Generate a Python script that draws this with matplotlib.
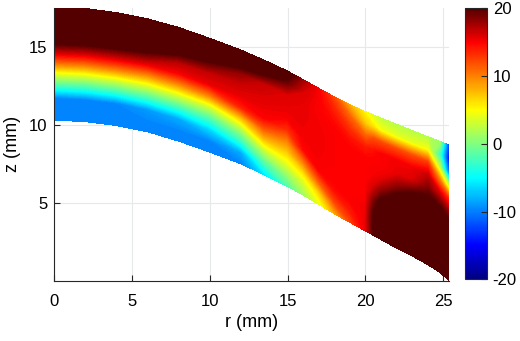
import numpy as np
import matplotlib.pyplot as plt
from matplotlib.colors import LinearSegmentedColormap, Normalize
from matplotlib.cm import ScalarMappable

plt.rcParams['font.family'] = ['Liberation Sans', 'DejaVu Sans']
plt.rcParams['axes.unicode_minus'] = False

# Geometry of the section: radial stations and the upper / lower surface heights (mm)
r_nodes = [0, 2, 4, 6, 8, 10, 12, 13.5, 15, 16, 17, 18, 19, 20, 20.5, 21, 22, 23, 24, 24.8, 25.4]
z_top = [17.5, 17.42, 17.15, 16.75, 16.2, 15.5, 14.75, 14.1, 13.4, 12.85, 12.3, 11.75, 11.25, 10.8,
         10.6, 10.4, 10.0, 9.6, 9.2, 8.9, 8.65]
z_bot = [10.3, 10.2, 9.95, 9.55, 8.95, 8.25, 7.5, 6.8, 6.05, 5.5, 4.9, 4.3, 3.75, 3.2,
         2.93, 2.65, 2.1, 1.6, 1.05, 0.55, 0.0]

# fraction of thickness, bottom surface (0) -> top surface (1)
s_levels = [0, 0.1, 0.2, 0.3, 0.4, 0.5, 0.6, 0.7, 0.8, 0.9, 1.0]

# field value at each station, listed bottom -> top
field_cols = [
    [-9.8, -9.7, -9.6, -2.8, 3.1, 10, 16.1, 20.9, 23.5, 24, 24],   # r=0
    [-9.8, -9.7, -9.6, -2.8, 3.1, 10, 16.1, 20.9, 23.5, 24, 24],   # r=2
    [-9.8, -9.7, -9.6, -2.8, 3.1, 10, 16, 20.6, 23.5, 24, 24],     # r=4
    [-9.8, -9.7, -8.9, -2.6, 2.9, 9.3, 15.4, 19.6, 22.7, 24, 24],  # r=6
    [-9.8, -9.7, -8.3, -2.5, 3.1, 9.4, 15, 17, 21.5, 23.5, 24],    # r=8
    [-9.8, -9.7, -6.5, -1.9, 3.1, 10, 15.5, 16.6, 20, 23, 24],     # r=10
    [-9.9, -8.3, -2.9, 1.5, 7.1, 13.7, 15.6, 16.4, 18, 21.8, 24],  # r=12
    [-6, -2.2, 2, 7, 11.4, 15, 15.5, 16, 16.5, 21, 23.5],          # r=13.5
    [-2, 0.9, 4.1, 7, 10, 13.3, 15.2, 15.6, 15.9, 19, 21.5],       # r=15
    [1, 3, 6.2, 10.4, 14.6, 15.2, 15.4, 15.5, 15.6, 16, 17.5],     # r=16
    [4, 6.5, 11.3, 15, 15.2, 15.3, 15.3, 15.2, 15, 15, 15],        # r=17
    [8, 12, 14.5, 15, 15, 15, 15, 15, 14.5, 13.5, 12],             # r=18
    [12, 14, 15, 15, 15, 15, 15, 14.5, 13, 11, 8],                 # r=19
    [15.5, 15.5, 15.3, 15, 15, 15, 15, 14, 11, 7, 5],              # r=20
    [19.5, 20, 19.5, 18, 16, 15.2, 15, 14.5, 12, 6, 3.5],          # r=20.5
    [23, 23, 22.5, 21, 18, 15.5, 15, 15, 12, 4.5, 2.5],            # r=21
    [24, 24, 24, 23, 21, 18, 15.5, 15.3, 12, 4, 2],                # r=22
    [24, 24, 24, 24, 22.5, 20, 16, 15.3, 12, 4, 2],                # r=23
    [24, 24, 24, 23.5, 22.5, 20.8, 18.5, 16.5, 12.5, 4.5, 2],      # r=24
    [24, 24, 24, 24, 23, 20, 16, 10, 2, -3, 1],                    # r=24.8
    [24, 24, 24, 23, 21, 18, 13, 2, -12, -16, -14],                # r=25.4
]

cbar_ticks = [-20, -10, 0, 10, 20]

# jet-like map with a darker red end
cmap = LinearSegmentedColormap.from_list('jet_dark', [
    (0.0, (0.0, 0.0, 0.5)), (0.125, (0.0, 0.0, 1.0)), (0.375, (0.0, 1.0, 1.0)),
    (0.625, (1.0, 1.0, 0.0)), (0.875, (1.0, 0.0, 0.0)), (1.0, (0.33, 0.0, 0.0))])

r = np.array(r_nodes)
s = np.array(s_levels)
R = np.tile(r, (len(s), 1))
Z = np.array(z_bot) + s[:, None] * (np.array(z_top) - np.array(z_bot))
C = np.array(field_cols).T

fig = plt.figure(figsize=(5.2, 3.41), dpi=100)
ax = fig.add_axes([0.1048, 0.1774, 0.7592, 0.8006])

ax.set_axisbelow(True)
ax.grid(True, color='#e6e9ea', linewidth=0.8)
cs = ax.contourf(R, Z, C, levels=np.linspace(-20, 20, 201), cmap=cmap, extend='both')
cs.set_edgecolor('face')
cs.set_linewidth(0.4)

ax.set_xlim(0, 25.4)
ax.set_ylim(0, 17.5)
ax.set_xticks([0, 5, 10, 15, 20, 25])
ax.set_yticks([5, 10, 15])
for side in ['top', 'right']:
    ax.spines[side].set_visible(False)
for side in ['left', 'bottom']:
    ax.spines[side].set_color('#262626')
    ax.spines[side].set_linewidth(0.8)
ax.tick_params(axis='x', direction='in', length=4, width=0.8, color='#262626', labelsize=12, pad=10)
ax.tick_params(axis='y', direction='in', length=4, width=0.8, color='#262626', labelsize=12, pad=5)
ax.set_xlabel('r (mm)', fontsize=13, labelpad=3)
ax.set_ylabel('z (mm)', fontsize=13, labelpad=6)

cax = fig.add_axes([0.894, 0.181, 0.0429, 0.795])
sm = ScalarMappable(norm=Normalize(-20, 20), cmap=cmap)
cb = fig.colorbar(sm, cax=cax, ticks=cbar_ticks)
cb.outline.set_edgecolor('#262626')
cb.outline.set_linewidth(0.8)
cax.tick_params(direction='in', length=4, width=0.8, color='#262626', labelsize=12, pad=4)

fig.savefig('out.png', dpi=100)
